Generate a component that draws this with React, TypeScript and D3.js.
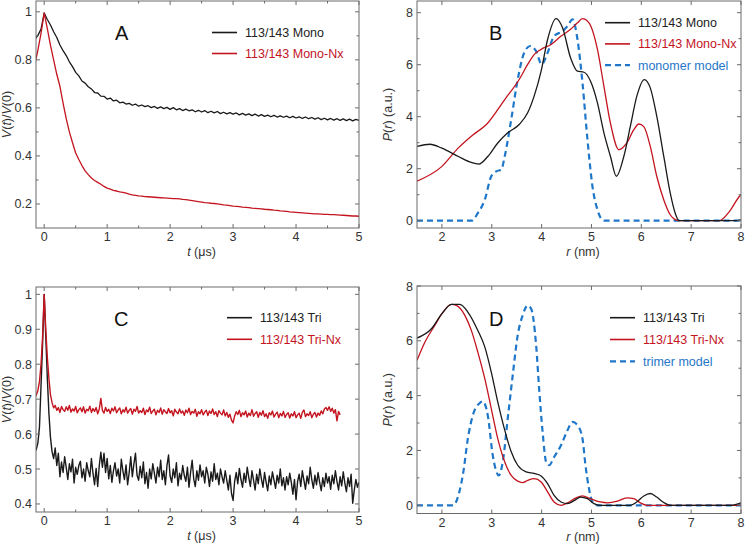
import React from "react";
import * as d3 from "d3";

// ---------- DATA ----------
// Panels A & C: time traces sampled on an even grid starting at -0.15 µs
const T_START = -0.15;
const T_STEP_A = 0.05;
const T_STEP_C = 0.025;

const monoV = [
  0.884, 0.902, 0.928, 0.995, 0.968, 0.945, 0.917, 0.893, 0.862, 0.838, 0.818, 0.792, 0.772, 0.748, 0.733, 0.712,
  0.703, 0.688, 0.679, 0.664, 0.662, 0.649, 0.648, 0.637, 0.641, 0.629, 0.632, 0.621, 0.624, 0.616, 0.619, 0.611,
  0.616, 0.607, 0.612, 0.605, 0.609, 0.601, 0.606, 0.598, 0.604, 0.597, 0.602, 0.594, 0.601, 0.592, 0.597, 0.589,
  0.595, 0.588, 0.592, 0.584, 0.59, 0.583, 0.589, 0.58, 0.586, 0.579, 0.585, 0.576, 0.582, 0.575, 0.58, 0.574,
  0.579, 0.571, 0.577, 0.57, 0.575, 0.568, 0.574, 0.566, 0.572, 0.565, 0.57, 0.563, 0.569, 0.562, 0.567, 0.561,
  0.566, 0.559, 0.565, 0.558, 0.563, 0.556, 0.562, 0.555, 0.56, 0.553, 0.559, 0.551, 0.557, 0.55, 0.556, 0.549,
  0.555, 0.548, 0.554, 0.547, 0.553, 0.546, 0.552, 0.548,
];

const monoNxV = [
  0.78, 0.84, 0.91, 0.995, 0.93, 0.86, 0.8, 0.74, 0.69, 0.62, 0.555, 0.5, 0.455, 0.412, 0.385, 0.36,
  0.338, 0.322, 0.308, 0.298, 0.29, 0.282, 0.273, 0.266, 0.262, 0.257, 0.254, 0.25, 0.248, 0.245, 0.241, 0.238,
  0.236, 0.234, 0.233, 0.231, 0.23, 0.229, 0.228, 0.227, 0.226, 0.225, 0.224, 0.223, 0.222, 0.222, 0.221, 0.219,
  0.218, 0.216, 0.214, 0.212, 0.21, 0.208, 0.206, 0.205, 0.203, 0.202, 0.2, 0.198, 0.196, 0.195, 0.193, 0.191,
  0.19, 0.189, 0.187, 0.186, 0.185, 0.183, 0.182, 0.181, 0.18, 0.178, 0.177, 0.176, 0.174, 0.173, 0.171, 0.17,
  0.169, 0.167, 0.166, 0.165, 0.164, 0.163, 0.162, 0.161, 0.16, 0.159, 0.159, 0.158, 0.157, 0.157, 0.156, 0.156,
  0.155, 0.154, 0.153, 0.152, 0.151, 0.15, 0.15, 0.149,
];

const triV = [
  0.548, 0.556, 0.575, 0.62, 0.74, 0.86, 1.0, 0.88, 0.76, 0.66, 0.59, 0.55, 0.53,
  0.56, 0.51, 0.545, 0.478, 0.52, 0.49, 0.535, 0.505, 0.47, 0.515, 0.492, 0.528, 0.46, 0.505, 0.485, 0.51,
  0.522, 0.475, 0.5, 0.465, 0.518, 0.495, 0.478, 0.53, 0.488, 0.455, 0.502, 0.45, 0.51, 0.548, 0.505, 0.545,
  0.49, 0.53, 0.472, 0.51, 0.462, 0.495, 0.518, 0.48, 0.5, 0.46, 0.528, 0.495, 0.47, 0.512, 0.455, 0.49,
  0.535, 0.478, 0.515, 0.545, 0.482, 0.468, 0.508, 0.475, 0.52, 0.458, 0.49, 0.445, 0.5, 0.472, 0.515, 0.488,
  0.46, 0.505, 0.478, 0.525, 0.47, 0.495, 0.455, 0.51, 0.54, 0.48, 0.462, 0.5, 0.475, 0.518, 0.452, 0.488,
  0.47, 0.51, 0.482, 0.465, 0.505, 0.448, 0.49, 0.525, 0.472, 0.45, 0.495, 0.468, 0.512, 0.478, 0.495, 0.46,
  0.505, 0.485, 0.45, 0.492, 0.465, 0.515, 0.47, 0.488, 0.455, 0.5, 0.478, 0.46, 0.495, 0.468, 0.44, 0.482,
  0.43, 0.41, 0.465, 0.49, 0.458, 0.502, 0.47, 0.448, 0.488, 0.462, 0.505, 0.475, 0.45, 0.495, 0.468, 0.44,
  0.485, 0.458, 0.5, 0.472, 0.448, 0.49, 0.462, 0.438, 0.48, 0.455, 0.492, 0.468, 0.445, 0.482, 0.46, 0.5,
  0.452, 0.475, 0.44, 0.478, 0.455, 0.488, 0.462, 0.428, 0.47, 0.412, 0.465, 0.485, 0.45, 0.495, 0.468, 0.442,
  0.48, 0.458, 0.505, 0.47, 0.445, 0.482, 0.455, 0.49, 0.462, 0.438, 0.475, 0.45, 0.488, 0.46, 0.478, 0.442,
  0.482, 0.458, 0.495, 0.465, 0.44, 0.478, 0.452, 0.492, 0.46, 0.435, 0.475, 0.45, 0.485, 0.402, 0.44, 0.47,
  0.448, 0.462,
];

const triNxV = [
  0.706, 0.712, 0.725, 0.75, 0.8, 0.88, 1.0, 0.9, 0.82, 0.76, 0.712, 0.69, 0.675,
  0.682, 0.668, 0.676, 0.662, 0.679, 0.67, 0.665, 0.678, 0.668, 0.682, 0.663, 0.672, 0.666, 0.679, 0.661, 0.67,
  0.675, 0.664, 0.678, 0.66, 0.671, 0.667, 0.68, 0.662, 0.673, 0.665, 0.676, 0.658, 0.672, 0.702, 0.668, 0.66,
  0.676, 0.665, 0.671, 0.659, 0.674, 0.666, 0.678, 0.661, 0.669, 0.675, 0.658, 0.67, 0.663, 0.677, 0.66, 0.668,
  0.673, 0.657, 0.671, 0.665, 0.679, 0.66, 0.667, 0.662, 0.674, 0.656, 0.669, 0.664, 0.677, 0.659, 0.666, 0.671,
  0.655, 0.668, 0.662, 0.675, 0.657, 0.67, 0.664, 0.659, 0.673, 0.661, 0.667, 0.652, 0.671, 0.663, 0.658, 0.672,
  0.66, 0.666, 0.654, 0.669, 0.661, 0.674, 0.656, 0.665, 0.66, 0.671, 0.651, 0.664, 0.658, 0.67, 0.655, 0.663,
  0.668, 0.653, 0.666, 0.659, 0.672, 0.656, 0.664, 0.65, 0.667, 0.66, 0.655, 0.669, 0.652, 0.662, 0.648, 0.657,
  0.64, 0.632, 0.652, 0.664, 0.656, 0.668, 0.65, 0.661, 0.655, 0.666, 0.649, 0.66, 0.653, 0.67, 0.651, 0.659,
  0.664, 0.648, 0.662, 0.654, 0.667, 0.65, 0.658, 0.645, 0.661, 0.655, 0.666, 0.649, 0.657, 0.663, 0.647, 0.659,
  0.652, 0.665, 0.648, 0.656, 0.661, 0.646, 0.658, 0.652, 0.664, 0.647, 0.655, 0.66, 0.645, 0.662, 0.669, 0.65,
  0.658, 0.653, 0.664, 0.647, 0.657, 0.662, 0.649, 0.66, 0.654, 0.666, 0.658, 0.672, 0.676, 0.668, 0.678, 0.665,
  0.674, 0.66, 0.67, 0.638, 0.665, 0.655,
];

// Panel B: distance distributions
const monoR = [1.5, 1.76, 2.0, 2.33, 2.59, 2.74, 2.92, 3.12, 3.32, 3.55, 3.72, 3.85, 3.99, 4.12, 4.29, 4.42, 4.58, 4.72, 4.85, 4.98, 5.12, 5.25, 5.38, 5.5, 5.65, 5.78, 5.91, 6.06, 6.18, 6.31, 6.45, 6.58, 6.68, 6.76, 7.0, 7.5, 7.9, 8.0];
const monoP = [2.86, 2.94, 2.79, 2.47, 2.24, 2.18, 2.47, 2.99, 3.38, 3.7, 4.15, 4.79, 5.75, 6.97, 7.77, 7.42, 6.27, 5.75, 5.71, 5.37, 4.53, 3.38, 2.48, 1.71, 2.48, 3.63, 4.79, 5.43, 5.11, 4.02, 2.48, 1.07, 0.29, 0.0, 0.0, 0.0, 0.0, 0.03];

const monoNxR = [1.5, 2.0, 2.33, 2.59, 2.92, 3.26, 3.55, 3.72, 3.85, 3.99, 4.19, 4.39, 4.58, 4.72, 4.82, 4.95, 5.12, 5.25, 5.38, 5.55, 5.71, 5.85, 5.95, 6.05, 6.18, 6.31, 6.45, 6.58, 6.68, 6.75, 7.0, 7.57, 7.77, 7.97, 8.0];
const monoNxP = [1.52, 2.09, 2.8, 3.25, 3.76, 4.66, 5.43, 6.01, 6.39, 6.59, 6.78, 7.1, 7.36, 7.61, 7.77, 7.61, 6.59, 5.17, 3.76, 2.73, 2.99, 3.5, 3.72, 3.62, 2.86, 1.71, 0.81, 0.23, 0.04, 0.0, 0.0, 0.0, 0.36, 0.94, 1.0];

const monomerR = [1.5, 2.0, 2.59, 2.72, 2.86, 2.99, 3.09, 3.19, 3.26, 3.39, 3.52, 3.65, 3.77, 3.89, 4.0, 4.12, 4.25, 4.42, 4.52, 4.62, 4.72, 4.82, 4.92, 5.02, 5.12, 5.25, 6.0, 8.0];
const monomerP = [0, 0, 0, 0.29, 0.81, 1.71, 1.9, 1.96, 2.48, 3.89, 5.43, 6.46, 6.72, 6.52, 6.01, 6.46, 7.1, 7.29, 7.49, 7.74, 6.97, 5.3, 3.12, 1.32, 0.42, 0.0, 0, 0];

// Panel D
const triR = [1.5, 1.79, 2.0, 2.19, 2.36, 2.52, 2.72, 2.86, 2.99, 3.12, 3.26, 3.39, 3.52, 3.69, 3.85, 3.99, 4.12, 4.25, 4.39, 4.52, 4.66, 4.78, 4.92, 5.05, 5.18, 5.5, 5.78, 5.91, 6.05, 6.18, 6.31, 6.45, 6.58, 7.0, 7.8, 8.0];
const triP = [6.1, 6.44, 6.99, 7.33, 7.33, 7.05, 6.38, 5.78, 4.86, 3.77, 2.74, 1.95, 1.46, 1.22, 1.16, 1.07, 0.79, 0.36, 0.12, 0.06, 0.18, 0.3, 0.24, 0.06, 0.0, 0.0, 0.0, 0.12, 0.34, 0.43, 0.3, 0.1, 0.0, 0.0, 0.0, 0.09];

const triNxR = [1.5, 1.66, 1.86, 2.0, 2.19, 2.29, 2.46, 2.59, 2.72, 2.86, 2.99, 3.12, 3.26, 3.39, 3.52, 3.62, 3.72, 3.85, 3.99, 4.12, 4.25, 4.39, 4.52, 4.69, 4.82, 4.98, 5.18, 5.32, 5.52, 5.71, 5.85, 5.98, 6.11, 7.0, 8.0];
const triNxP = [5.29, 5.96, 6.57, 6.99, 7.33, 7.29, 6.93, 6.38, 5.59, 4.62, 3.53, 2.43, 1.58, 1.09, 0.88, 0.83, 0.91, 0.97, 0.85, 0.49, 0.12, 0.0, 0.09, 0.27, 0.34, 0.24, 0.12, 0.09, 0.15, 0.27, 0.24, 0.09, 0.0, 0.0, 0.0];

const trimerR = [1.5, 2.0, 2.23, 2.33, 2.43, 2.52, 2.62, 2.76, 2.82, 2.92, 3.02, 3.14, 3.22, 3.32, 3.42, 3.52, 3.62, 3.72, 3.79, 3.89, 3.95, 4.02, 4.09, 4.15, 4.25, 4.39, 4.52, 4.62, 4.72, 4.82, 4.88, 4.95, 5.02, 5.12, 6.0, 8.0];
const trimerP = [0, 0, 0, 0.36, 1.22, 2.43, 3.28, 3.73, 3.79, 3.28, 1.82, 1.09, 1.58, 3.16, 4.74, 6.2, 6.93, 7.29, 7.17, 5.84, 4.26, 2.67, 1.58, 1.46, 1.76, 2.19, 2.74, 3.04, 2.92, 2.43, 1.46, 0.61, 0.12, 0.0, 0, 0];

// Axis ticks
const timeTicks = [0, 1, 2, 3, 4, 5];
const timeMinor = [0.5, 1.5, 2.5, 3.5, 4.5];
const vTicksA = [0.2, 0.4, 0.6, 0.8, 1];
const vMinorA = [0.3, 0.5, 0.7, 0.9];
const vTicksC = [0.4, 0.5, 0.6, 0.7, 0.8, 0.9, 1];
const rTicks = [2, 3, 4, 5, 6, 7, 8];
const pTicks = [0, 2, 4, 6, 8];
const pMinor = [1, 3, 5, 7];

// ---------- STYLE ----------
const BLACK = "#1a1a1a";
const RED = "#c3141f";
const BLUE = "#1f77c9";
const FRAME = "#6a6a6a";
const FONT = "'Liberation Sans', Arial, sans-serif";
const TICK_FS = 12.5;

type Series = { x: number[]; y: number[]; color: string; width: number; dash?: string; smooth?: boolean };
type LegendItem = { label: string; color: string; dash?: string };

function fmtV(v: number) {
  return v === 1 ? "1" : d3.format(".1f")(v);
}

function Panel(props: {
  id: string;
  left: number; right: number; top: number; bottom: number;
  xDomain: [number, number]; yDomain: [number, number];
  xTicks: number[]; xMinor: number[]; yTicks: number[]; yMinor: number[];
  yFmt: (v: number) => string;
  series: Series[];
  letter: string; letterX: number; letterY: number;
  legend: LegendItem[]; legX: number; legY: number; legGap: number;
  xLabel: "t" | "r"; yLabel: "V" | "P"; yLabelX: number;
}) {
  const p = props;
  const x = d3.scaleLinear().domain(p.xDomain).range([p.left, p.right]);
  const y = d3.scaleLinear().domain(p.yDomain).range([p.bottom, p.top]);
  const clipId = "clip" + p.id;
  const majorLen = 4;
  const minorLen = 2.5;
  const midX = (p.left + p.right) / 2;
  const midY = (p.top + p.bottom) / 2;

  return (
    <g>
      <defs>
        <clipPath id={clipId}>
          <rect x={p.left} y={p.top} width={p.right - p.left} height={p.bottom - p.top} />
        </clipPath>
      </defs>
      <g clipPath={`url(#${clipId})`}>
        {p.series.map((s, i) => {
          const pts: [number, number][] = s.x.map((xv, j) => [xv, s.y[j]]);
          const gen = d3
            .line<[number, number]>()
            .x((d) => x(d[0]))
            .y((d) => y(d[1]))
            .curve(s.smooth ? d3.curveMonotoneX : d3.curveLinear);
          return (
            <path
              key={i}
              d={gen(pts) || ""}
              fill="none"
              stroke={s.color}
              strokeWidth={s.width}
              strokeDasharray={s.dash}
              strokeLinejoin="round"
            />
          );
        })}
      </g>
      <rect x={p.left} y={p.top} width={p.right - p.left} height={p.bottom - p.top} fill="none" stroke={FRAME} strokeWidth={1} />
      {p.xTicks.map((t) => (
        <g key={"xt" + t}>
          <line x1={x(t)} x2={x(t)} y1={p.bottom} y2={p.bottom - majorLen} stroke={FRAME} />
          <line x1={x(t)} x2={x(t)} y1={p.top} y2={p.top + majorLen} stroke={FRAME} />
          <text x={x(t)} y={p.bottom + 13} textAnchor="middle" fontSize={TICK_FS} fill="#333" fontFamily={FONT}>
            {t}
          </text>
        </g>
      ))}
      {p.xMinor.map((t) => (
        <g key={"xm" + t}>
          <line x1={x(t)} x2={x(t)} y1={p.bottom} y2={p.bottom - minorLen} stroke={FRAME} />
          <line x1={x(t)} x2={x(t)} y1={p.top} y2={p.top + minorLen} stroke={FRAME} />
        </g>
      ))}
      {p.yTicks.map((t) => (
        <g key={"yt" + t}>
          <line x1={p.left} x2={p.left + majorLen} y1={y(t)} y2={y(t)} stroke={FRAME} />
          <line x1={p.right} x2={p.right - majorLen} y1={y(t)} y2={y(t)} stroke={FRAME} />
          <text x={p.left - 4} y={y(t) + 4.5} textAnchor="end" fontSize={TICK_FS} fill="#333" fontFamily={FONT}>
            {p.yFmt(t)}
          </text>
        </g>
      ))}
      {p.yMinor.map((t) => (
        <g key={"ym" + t}>
          <line x1={p.left} x2={p.left + minorLen} y1={y(t)} y2={y(t)} stroke={FRAME} />
          <line x1={p.right} x2={p.right - minorLen} y1={y(t)} y2={y(t)} stroke={FRAME} />
        </g>
      ))}
      <text x={midX + 4} y={p.bottom + 27.5} textAnchor="middle" fontSize={TICK_FS} fill="#333" fontFamily={FONT}>
        {p.xLabel === "t" ? (
          <>
            <tspan fontStyle="italic">t</tspan> (μs)
          </>
        ) : (
          <>
            <tspan fontStyle="italic">r</tspan> (nm)
          </>
        )}
      </text>
      <text
        transform={`translate(${p.yLabelX},${midY}) rotate(-90)`}
        textAnchor="middle"
        fontSize={TICK_FS}
        fill="#333"
        fontFamily={FONT}
      >
        {p.yLabel === "V" ? (
          <>
            <tspan fontStyle="italic">V</tspan>(<tspan fontStyle="italic">t</tspan>)/<tspan fontStyle="italic">V</tspan>(0)
          </>
        ) : (
          <>
            <tspan fontStyle="italic">P</tspan>(<tspan fontStyle="italic">r</tspan>) (a.u.)
          </>
        )}
      </text>
      <text x={p.letterX} y={p.letterY} fontSize={20} fill="#111" fontFamily={FONT}>
        {p.letter}
      </text>
      {p.legend.map((l, i) => {
        const ly = p.legY + i * p.legGap;
        return (
          <g key={"lg" + i}>
            <line
              x1={p.legX}
              x2={p.legX + 25}
              y1={ly}
              y2={ly}
              stroke={l.color}
              strokeWidth={l.dash ? 2.2 : 1.6}
              strokeDasharray={l.dash}
            />
            <text x={p.legX + 33} y={ly + 4.5} fontSize={12.5} fill={l.color === BLACK ? "#222" : l.color} fontFamily={FONT}>
              {l.label}
            </text>
          </g>
        );
      })}
    </g>
  );
}

const times = (vals: number[], step: number) => vals.map((_, i) => T_START + i * step);

export default function App() {
  return (
    <svg width={745} height={544} style={{ position: "absolute", left: 0, top: 0, background: "#fff" }}>
      <rect x={0} y={0} width={745} height={544} fill="#fff" />
      <Panel
        id="A"
        left={36} right={359} top={1} bottom={228}
        xDomain={[-0.13, 5]} yDomain={[0.1, 1.045]}
        xTicks={timeTicks} xMinor={timeMinor} yTicks={vTicksA} yMinor={vMinorA}
        yFmt={fmtV}
        series={[
          { x: times(monoV, T_STEP_A), y: monoV, color: BLACK, width: 1.3 },
          { x: times(monoNxV, T_STEP_A), y: monoNxV, color: RED, width: 1.3 },
        ]}
        letter="A" letterX={115} letterY={40}
        legend={[
          { label: "113/143 Mono", color: BLACK },
          { label: "113/143 Mono-Nx", color: RED },
        ]}
        legX={212} legY={32.5} legGap={21}
        xLabel="t" yLabel="V" yLabelX={11}
      />
      <Panel
        id="B"
        left={417} right={741} top={1} bottom={228}
        xDomain={[1.5, 8]} yDomain={[-0.28, 8.45]}
        xTicks={rTicks} xMinor={[]} yTicks={pTicks} yMinor={pMinor}
        yFmt={(v) => String(v)}
        series={[
          { x: monomerR, y: monomerP, color: BLUE, width: 2.2, dash: "6,4", smooth: true },
          { x: monoNxR, y: monoNxP, color: RED, width: 1.3, smooth: true },
          { x: monoR, y: monoP, color: BLACK, width: 1.3, smooth: true },
        ]}
        letter="B" letterX={489} letterY={40}
        legend={[
          { label: "113/143 Mono", color: BLACK },
          { label: "113/143 Mono-Nx", color: RED },
          { label: "monomer model", color: BLUE, dash: "6,4" },
        ]}
        legX={605} legY={22.7} legGap={21.2}
        xLabel="r" yLabel="P" yLabelX={392}
      />
      <Panel
        id="C"
        left={36} right={359} top={287} bottom={512}
        xDomain={[-0.13, 5]} yDomain={[0.377, 1.021]}
        xTicks={timeTicks} xMinor={timeMinor} yTicks={vTicksC} yMinor={[]}
        yFmt={fmtV}
        series={[
          { x: times(triV, T_STEP_C), y: triV, color: BLACK, width: 1.4 },
          { x: times(triNxV, T_STEP_C), y: triNxV, color: RED, width: 1.4 },
        ]}
        letter="C" letterX={114} letterY={326}
        legend={[
          { label: "113/143 Tri", color: BLACK },
          { label: "113/143 Tri-Nx", color: RED },
        ]}
        legX={227} legY={317.7} legGap={21.6}
        xLabel="t" yLabel="V" yLabelX={11}
      />
      <Panel
        id="D"
        left={417} right={741} top={286} bottom={513.5}
        xDomain={[1.5, 8]} yDomain={[-0.3, 8]}
        xTicks={rTicks} xMinor={[]} yTicks={pTicks} yMinor={pMinor}
        yFmt={(v) => String(v)}
        series={[
          { x: trimerR, y: trimerP, color: BLUE, width: 2.2, dash: "6,4", smooth: true },
          { x: triNxR, y: triNxP, color: RED, width: 1.3, smooth: true },
          { x: triR, y: triP, color: BLACK, width: 1.3, smooth: true },
        ]}
        letter="D" letterX={489} letterY={326}
        legend={[
          { label: "113/143 Tri", color: BLACK },
          { label: "113/143 Tri-Nx", color: RED },
          { label: "trimer model", color: BLUE, dash: "6,4" },
        ]}
        legX={610} legY={317.7} legGap={21.8}
        xLabel="r" yLabel="P" yLabelX={392}
      />
    </svg>
  );
}
